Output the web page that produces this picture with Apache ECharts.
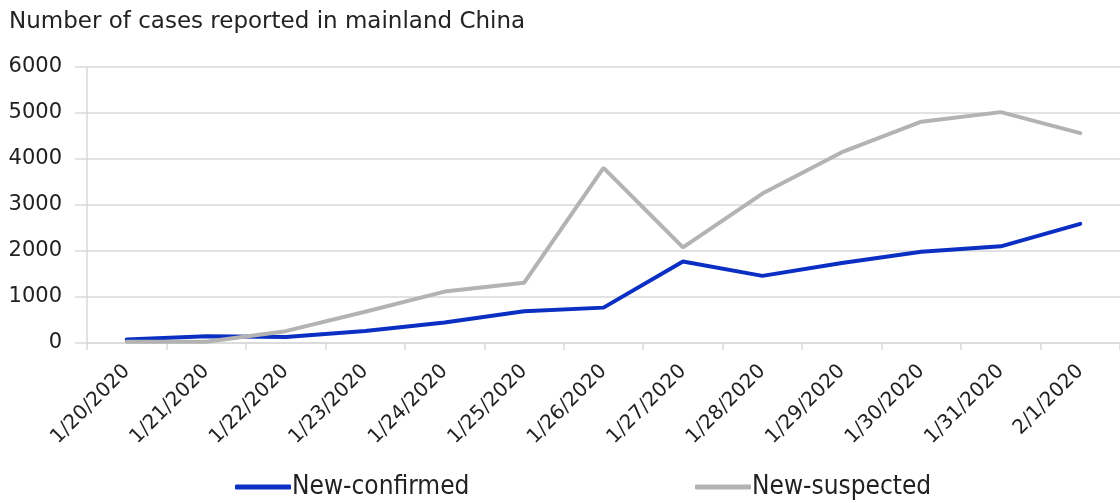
<!DOCTYPE html>
<html>
<head>
<meta charset="utf-8">
<script src="https://cdn.jsdelivr.net/npm/echarts@6/dist/echarts.min.js"></script>
<style>
html,body{margin:0;padding:0;background:#fff;}
#main{width:1120px;height:503px;}
</style>
</head>
<body>
<div id="main"></div>
<script>
const categories = ['1/20/2020','1/21/2020','1/22/2020','1/23/2020','1/24/2020','1/25/2020','1/26/2020','1/27/2020','1/28/2020','1/29/2020','1/30/2020','1/31/2020','2/1/2020'];
const newConfirmed = [77, 149, 131, 259, 444, 688, 769, 1771, 1459, 1737, 1982, 2102, 2590];
const newSuspected = [27, 26, 257, 680, 1118, 1309, 3806, 2077, 3248, 4148, 4812, 5019, 4562];
const yTicks = [0, 1000, 2000, 3000, 4000, 5000, 6000];

const font = '"DejaVu Sans", sans-serif';
const condFont = '"DejaVu Sans Condensed", "Liberation Sans Narrow", "DejaVu Sans", sans-serif';
const legendCommon = {
  bottom: -2,
  itemWidth: 56,
  itemHeight: 5,
  icon: 'roundRect',
  textStyle: {fontFamily: condFont, fontSize: 26, color: '#222', padding: [0,0,0,-4]}
};
const chart = echarts.init(document.getElementById('main'));
chart.setOption({
  animation: false,
  title: {
    text: 'Number of cases reported in mainland China',
    left: 4, top: 6,
    textStyle: {fontFamily: font, fontSize: 23, fontWeight: 'normal', color: '#222'}
  },
  grid: {left: 87, right: -10, top: 67, bottom: 160, containLabel: false},
  legend: [
    Object.assign({left: 230, data: ['New-confirmed']}, legendCommon),
    Object.assign({left: 690, data: ['New-suspected']}, legendCommon)
  ],
  xAxis: {
    type: 'category',
    data: categories,
    boundaryGap: true,
    axisLine: {lineStyle: {color: '#d9d9d9', width: 1.5}},
    axisTick: {show: true, length: 7, lineStyle: {color: '#d9d9d9', width: 1.5}},
    axisLabel: {rotate: 45, margin: 25, interval: 0, fontFamily: font, fontSize: 20, color: '#222'}
  },
  yAxis: {
    type: 'value',
    min: 0, max: 6000, interval: 1000,
    axisLine: {show: true, lineStyle: {color: '#d9d9d9', width: 1.5}},
    axisTick: {show: true, length: 12, lineStyle: {color: '#d9d9d9', width: 1.5}},
    splitLine: {lineStyle: {color: '#d9d9d9', width: 1.5}},
    axisLabel: {margin: 25, fontFamily: font, fontSize: 21, color: '#222',
      formatter: v => yTicks.includes(v) ? String(v) : ''}
  },
  series: [
    {name: 'New-confirmed', type: 'line', data: newConfirmed, symbol: 'none',
     lineStyle: {color: '#0a2fc2', width: 4, cap: 'round'}, itemStyle: {color: '#0a2fc2'}},
    {name: 'New-suspected', type: 'line', data: newSuspected, symbol: 'none',
     lineStyle: {color: '#b3b3b3', width: 4, cap: 'round'}, itemStyle: {color: '#b3b3b3'}}
  ]
});
</script>
</body>
</html>
